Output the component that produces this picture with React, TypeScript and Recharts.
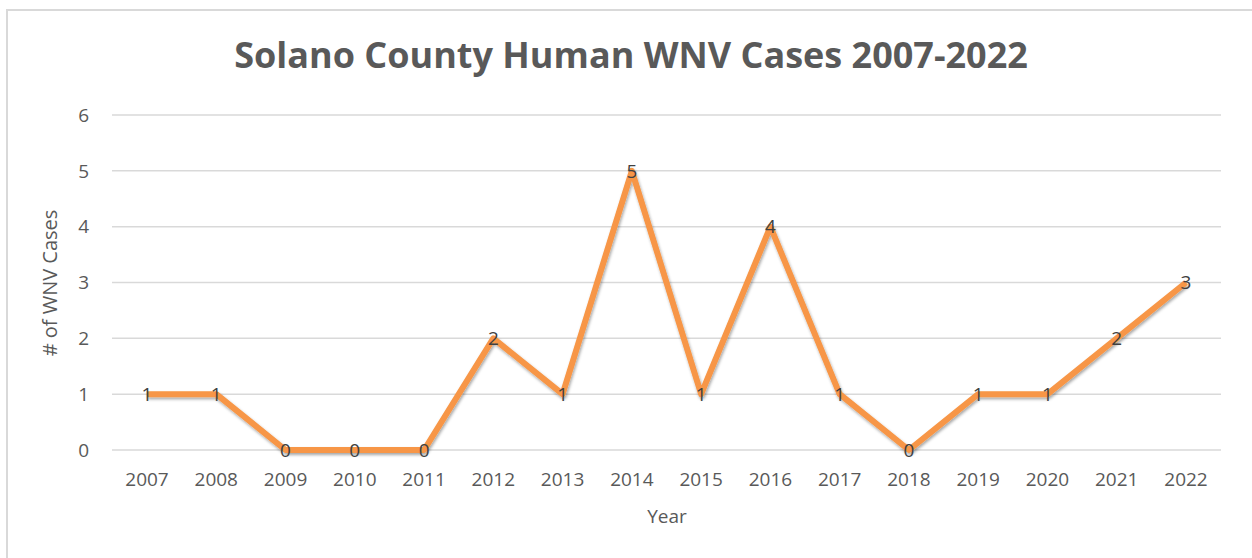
import React from "react";
import { LineChart, Line, XAxis, YAxis, CartesianGrid, LabelList } from "recharts";

const years = [
  "2007", "2008", "2009", "2010", "2011", "2012", "2013", "2014",
  "2015", "2016", "2017", "2018", "2019", "2020", "2021", "2022",
];
const cases = [1, 1, 0, 0, 0, 2, 1, 5, 1, 4, 1, 0, 1, 1, 2, 3];
const yTicks = [0, 1, 2, 3, 4, 5, 6];

const data = years.map((year, i) => ({ year, cases: cases[i] }));

const FONT = "'Open Sans', 'Liberation Sans', sans-serif";
const TEXT = "#595959";

export default function App() {
  return (
    <div style={{ position: "fixed", left: 0, top: 0, width: 1252, height: 558, overflow: "hidden", background: "#fff" }}>
      {/* chart border, right and bottom edges fall outside the frame */}
      <div
        style={{
          position: "absolute", left: 6, top: 9, width: 1270, height: 580,
          border: "2px solid #d9d9d9", boxSizing: "border-box",
        }}
      />
      <div style={{ position: "absolute", left: 0, top: 0 }}>
        <LineChart
          width={1252}
          height={558}
          data={data}
          margin={{ top: 115, right: 31, bottom: 78, left: 62 }}
          style={{ fontFamily: FONT }}
        >
          <defs>
            <filter id="lineShadow" x="-5%" y="-20%" width="110%" height="140%">
              <feDropShadow dx="1" dy="2" stdDeviation="1.6" floodColor="#000" floodOpacity="0.35" />
            </filter>
          </defs>
          <text x={631} y={58} textAnchor="middle" dominantBaseline="middle"
            style={{ fontSize: 36, fontWeight: 700, fill: TEXT, fontFamily: FONT }}>
            Solano County Human WNV Cases 2007-2022
          </text>
          <text x={667} y={518} textAnchor="middle" dominantBaseline="middle"
            style={{ fontSize: 19, fill: TEXT, fontFamily: FONT }}>
            Year
          </text>
          <text x={52} y={283} textAnchor="middle" dominantBaseline="middle"
            transform="rotate(-90 52 283)"
            style={{ fontSize: 20, fill: TEXT, fontFamily: FONT }}>
            # of WNV Cases
          </text>
          <CartesianGrid vertical={false} stroke="#d9d9d9" strokeWidth={1.5} />
          <XAxis
            dataKey="year"
            axisLine={false}
            tickLine={false}
            tickMargin={17}
            padding={{ left: 35, right: 35 }}
            tick={{ fill: TEXT, fontSize: 19, fontFamily: FONT }}
            interval={0}
          />
          <YAxis
            width={50}
            domain={[0, 6]}
            ticks={yTicks}
            axisLine={false}
            tickLine={false}
            tickMargin={17}
            tick={{ fill: TEXT, fontSize: 19, fontFamily: FONT }}
          />
          <Line
            type="linear"
            dataKey="cases"
            stroke="#F79646"
            strokeWidth={6}
            strokeLinejoin="round"
            dot={false}
            activeDot={false}
            isAnimationActive={false}
            filter="url(#lineShadow)"
          >
            <LabelList
              dataKey="cases"
              position="center"
              style={{ fill: "#404040", fontSize: 19, fontFamily: FONT }}
            />
          </Line>
        </LineChart>
      </div>
    </div>
  );
}
